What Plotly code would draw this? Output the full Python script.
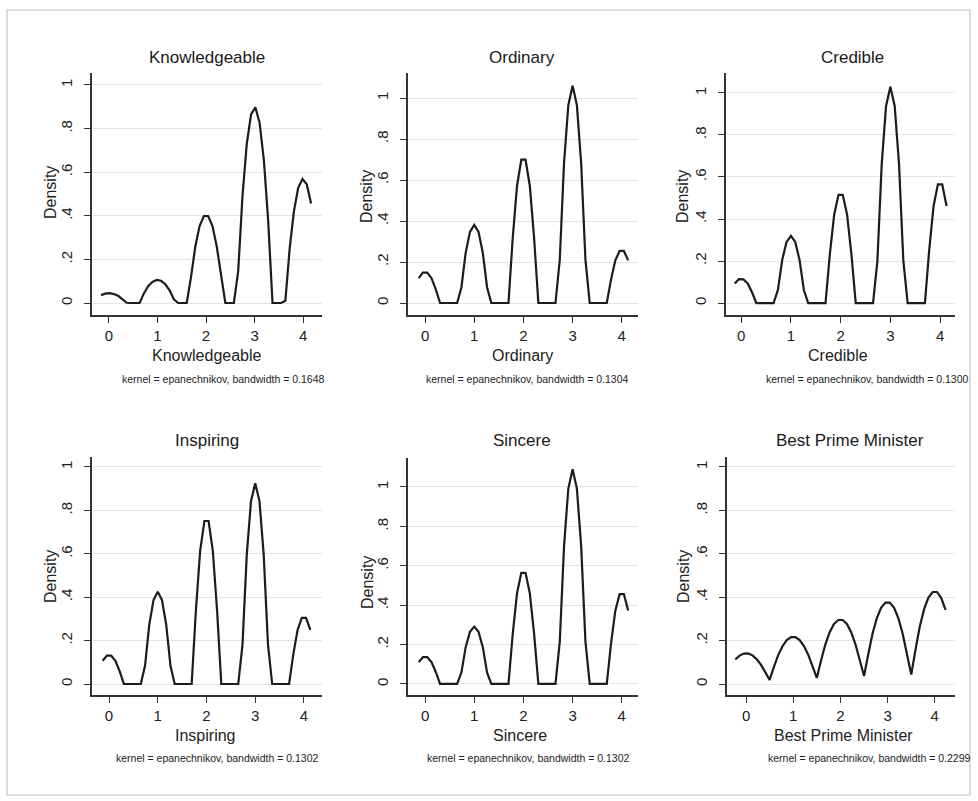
import plotly.graph_objects as go

W, H = 978, 801

# ---------------- data ----------------
titles = ["Knowledgeable", "Ordinary", "Credible", "Inspiring", "Sincere", "Best Prime Minister"]
bandwidths = ["0.1648", "0.1304", "0.1300", "0.1302", "0.1302", "0.2299"]

x_knowledgeable = [-0.165,-0.076,0.012,0.1,0.189,0.277,0.365,0.454,0.542,0.63,0.719,0.807,0.896,0.984,1.072,1.161,1.249,1.337,1.426,1.514,1.602,1.691,1.779,1.867,1.956,2.044,2.133,2.221,2.309,2.398,2.486,2.574,2.663,2.751,2.839,2.928,3.016,3.104,3.193,3.281,3.37,3.458,3.546,3.635,3.723,3.811,3.9,3.988,4.076,4.165]
y_knowledgeable = [.036,.043,.045,.041,.033,.019,.001,0,0,0,.044,.077,.097,.106,.102,.086,.058,.017,0,0,0,.12,.259,.353,.399,.399,.353,.259,.12,0,0,0,.146,.489,.729,.865,.898,.827,.653,.376,0,0,0,.01,.248,.421,.528,.569,.545,.456]

x_narrow = [-.13,-.043,.044,.131,.218,.305,.391,.478,.565,.652,.739,.826,.913,1,1.087,1.174,1.261,1.348,1.435,1.522,1.609,1.696,1.783,1.87,1.957,2.043,2.13,2.217,2.304,2.391,2.478,2.565,2.652,2.739,2.826,2.913,3,3.087,3.174,3.261,3.348,3.435,3.522,3.609,3.695,3.782,3.869,3.956,4.043,4.13]
y_ordinary = [.121,.148,.148,.121,.067,0,0,0,0,0,.076,.245,.347,.381,.347,.245,.076,0,0,0,0,0,.318,.572,.699,.699,.572,.318,0,0,0,0,0,.211,.683,.965,1.06,.966,.683,.212,0,0,0,0,0,.115,.208,.254,.254,.208]
y_credible = [.093,.114,.113,.093,.051,0,0,0,0,0,.063,.206,.291,.32,.291,.205,.062,0,0,0,0,0,.232,.42,.515,.515,.42,.232,0,0,0,0,0,.199,.66,.937,1.029,.938,.662,.202,0,0,0,0,0,.254,.461,.565,.565,.462]
y_inspiring = [.107,.131,.131,.107,.059,0,0,0,0,0,.084,.274,.387,.425,.387,.273,.084,0,0,0,0,0,.34,.614,.751,.751,.614,.34,0,0,0,0,0,.182,.594,.842,.925,.843,.595,.183,0,0,0,0,0,.138,.249,.305,.305,.249]
y_sincere = [0.111,0.136,0.136,0.111,0.061,0,0,0,0,0,0.058,0.187,0.265,0.291,0.265,0.187,0.057,0,0,0,0,0,0.255,0.461,0.564,0.564,0.461,0.255,0,0,0,0,0,0.214,0.7,0.992,1.09,0.993,0.701,0.216,0,0,0,0,0,0.206,0.372,0.456,0.456,0.373]

x_bpm = [-0.23,-0.139,-0.048,0.043,0.134,0.225,0.316,0.407,0.498,0.589,0.68,0.771,0.862,0.953,1.044,1.135,1.226,1.317,1.408,1.499,1.59,1.681,1.772,1.863,1.954,2.046,2.137,2.228,2.319,2.41,2.501,2.592,2.683,2.774,2.865,2.956,3.047,3.138,3.229,3.32,3.411,3.502,3.593,3.684,3.775,3.866,3.957,4.048,4.139,4.23]
y_bpm = [0.113,0.131,0.14,0.141,0.132,0.114,0.088,0.053,0.019,0.079,0.133,0.174,0.202,0.216,0.216,0.202,0.175,0.135,0.08,0.028,0.109,0.183,0.239,0.277,0.295,0.295,0.277,0.239,0.183,0.109,0.037,0.139,0.234,0.305,0.352,0.375,0.375,0.351,0.303,0.232,0.137,0.044,0.159,0.266,0.345,0.398,0.424,0.424,0.396,0.342]

x_ticks = [0, 1, 2, 3, 4]
y_ticks = [0, 0.2, 0.4, 0.6, 0.8, 1]
y_ticklabels = ["0", ".2", ".4", ".6", ".8", "1"]

series_x = [x_knowledgeable, x_narrow, x_narrow, x_narrow, x_narrow, x_bpm]
series_y = [y_knowledgeable, y_ordinary, y_credible, y_inspiring, y_sincere, y_bpm]

# ---------------- layout (pixel geometry of each panel) ----------------
panels = [
    dict(xl=92,  xr=322, yt=73,  yb=315, xr_=[-0.35, 4.39],  yr_=[-0.055, 1.055], tx=207, ty=58,  ax=207, ay=355, nx=223, ny=379, dx=50,  dy=193),
    dict(xl=408, xr=638, yt=73,  yb=315, xr_=[-0.347, 4.33], yr_=[-0.0585, 1.122], tx=522, ty=58, ax=522, ay=355, nx=527, ny=379, dx=367, dy=197),
    dict(xl=726, xr=955, yt=73,  yb=315, xr_=[-0.305, 4.30], yr_=[-0.057, 1.095], tx=852, ty=58,  ax=838, ay=355, nx=867, ny=379, dx=683, dy=197),
    dict(xl=92,  xr=322, yt=457, yb=695, xr_=[-0.349, 4.37], yr_=[-0.0507, 1.046], tx=207, ty=440, ax=205, ay=735, nx=217, ny=758, dx=50, dy=577),
    dict(xl=408, xr=638, yt=458, yb=695, xr_=[-0.347, 4.33], yr_=[-0.056, 1.147], tx=522, ty=440, ax=520, ay=735, nx=528, ny=758, dx=367, dy=583),
    dict(xl=727, xr=955, yt=457, yb=695, xr_=[-0.406, 4.43], yr_=[-0.0507, 1.046], tx=850, ty=440, ax=843, ay=735, nx=869, ny=758, dx=683, dy=577),
]

FONT = "Liberation Sans, Arial, Helvetica, sans-serif"
TXT = "#222222"
AX = "#333333"

def px(x):
    return x / W

def py(y):
    return 1 - y / H

fig = go.Figure()
annotations = []
layout = dict(
    width=W, height=H,
    margin=dict(l=0, r=0, t=0, b=0),
    paper_bgcolor="white", plot_bgcolor="white",
    showlegend=False,
    font=dict(family=FONT, color=TXT),
)

for i, (p, name, bw, xs, ys) in enumerate(zip(panels, titles, bandwidths, series_x, series_y)):
    n = "" if i == 0 else str(i + 1)
    fig.add_trace(go.Scatter(
        x=xs, y=ys, mode="lines",
        line=dict(color="#1c1c1c", width=2.2),
        xaxis="x" + n, yaxis="y" + n, hoverinfo="skip",
    ))
    layout["xaxis" + n] = dict(
        domain=[px(p["xl"]), px(p["xr"])], range=p["xr_"], anchor="y" + n,
        showline=True, linecolor=AX, linewidth=1.5,
        ticks="outside", ticklen=6, tickwidth=1.2, tickcolor=AX,
        tickvals=x_ticks, ticktext=[str(v) for v in x_ticks],
        tickfont=dict(size=15, color=TXT, family=FONT),
        showgrid=False, zeroline=False, fixedrange=True,
    )
    layout["yaxis" + n] = dict(
        domain=[py(p["yb"]), py(p["yt"])], range=p["yr_"], anchor="x" + n,
        showline=True, linecolor=AX, linewidth=1.5,
        ticks="outside", ticklen=6, tickwidth=1.2, tickcolor=AX,
        tickvals=y_ticks, ticktext=y_ticklabels, tickangle=-90,
        ticklabelstandoff=6,
        tickfont=dict(size=15, color=TXT, family=FONT),
        showgrid=True, gridcolor="#e4e4e4", gridwidth=1,
        zeroline=False, fixedrange=True,
    )
    annotations.append(dict(text=name, x=px(p["tx"]), y=py(p["ty"]), xref="paper", yref="paper",
                            xanchor="center", yanchor="middle", showarrow=False,
                            font=dict(size=17, color="#1a1a1a", family=FONT)))
    annotations.append(dict(text=name, x=px(p["ax"]), y=py(p["ay"]), xref="paper", yref="paper",
                            xanchor="center", yanchor="middle", showarrow=False,
                            font=dict(size=16, color=TXT, family=FONT)))
    annotations.append(dict(text="kernel = epanechnikov, bandwidth = " + bw,
                            x=px(p["nx"]), y=py(p["ny"]), xref="paper", yref="paper",
                            xanchor="center", yanchor="middle", showarrow=False,
                            font=dict(size=10.5, color=TXT, family=FONT)))
    annotations.append(dict(text="Density", x=px(p["dx"]), y=py(p["dy"]), xref="paper", yref="paper",
                            xanchor="center", yanchor="middle", showarrow=False, textangle=-90,
                            font=dict(size=16, color=TXT, family=FONT)))

layout["annotations"] = annotations
layout["shapes"] = [dict(type="rect", xref="paper", yref="paper",
                         x0=px(7), x1=px(970), y0=py(795), y1=py(10),
                         line=dict(color="#c4c4c4", width=1.2), fillcolor="rgba(0,0,0,0)", layer="below")]
fig.update_layout(**layout)
fig.write_html("out.html", config={"displayModeBar": False},
               post_script="document.body.style.margin='0';")
